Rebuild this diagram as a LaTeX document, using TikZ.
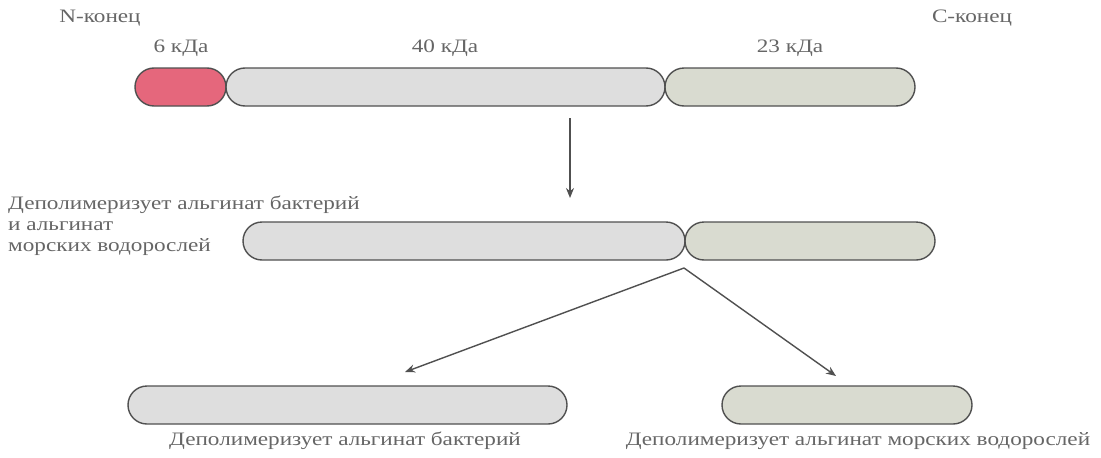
\documentclass[tikz,border=0pt]{standalone}
\usepackage{fontspec}
\setmainfont{Liberation Serif}
\newfontfamily\lblfont[FakeStretch=1.22]{Liberation Serif}
\usetikzlibrary{arrows.meta}

\definecolor{domred}{HTML}{E5677C}
\definecolor{domgray}{HTML}{DEDEDE}
\definecolor{domgreen}{HTML}{D9DBD0}
\definecolor{rimgray}{HTML}{505050}
\definecolor{txtgray}{HTML}{666666}

\tikzset{
  segbox/.style={draw=rimgray, line width=1.4pt, rectangle, rounded corners=19pt,
    minimum height=38pt, inner sep=0pt},
  lbl/.style={text=txtgray, font=\lblfont\fontsize{19}{21}\selectfont, inner sep=0pt},
  cut/.style={draw=rimgray, line width=1.4pt, -{Stealth[length=10pt,width=8pt]}}
}

\begin{document}
\begin{tikzpicture}[x=1pt,y=-1pt]
\useasboundingbox[fill=white] (0,0) rectangle (1101,458);
% full protein
\node[segbox, fill=domred, minimum width=91pt] (nt) at (180.5, 87) {};
\node[segbox, fill=domgray, minimum width=439pt] (d40) at (445.5, 87) {};
\node[segbox, fill=domgreen, minimum width=250pt] (d23) at (790, 87) {};
\node[lbl] (nlab) at (100, 18) {N-конец};
\node[lbl] (clab) at (972, 18) {C-конец};
\node[lbl] (k6) at (181, 48) {6 кДа};
\node[lbl] (k40) at (445, 48) {40 кДа};
\node[lbl] (k23) at (790, 48) {23 кДа};

% after first cut
\node[segbox, fill=domgray, minimum width=442pt] (m40) at (464, 241) {};
\node[segbox, fill=domgreen, minimum width=250pt] (m23) at (810, 241) {};
\node[lbl, align=left, anchor=west] (mtxt) at (8, 226)
  {Деполимеризует альгинат бактерий\\и альгинат\\морских водорослей};

% after second cut
\node[segbox, fill=domgray, minimum width=439pt] (b40) at (347.5, 405) {};
\node[segbox, fill=domgreen, minimum width=250pt] (b23) at (847, 405) {};
\node[lbl] (btxt1) at (345, 441) {Деполимеризует альгинат бактерий};
\node[lbl] (btxt2) at (858, 441) {Деполимеризует альгинат морских водорослей};

\coordinate (c1) at (570, 118);
\coordinate (c1e) at (570, 198);
\coordinate (c2) at (684, 268);
\coordinate (c2a) at (405, 372);
\coordinate (c2b) at (836, 376);
\draw[cut] (c1) -- (c1e);
\draw[cut] (c2) -- (c2a);
\draw[cut] (c2) -- (c2b);
\end{tikzpicture}
\end{document}
